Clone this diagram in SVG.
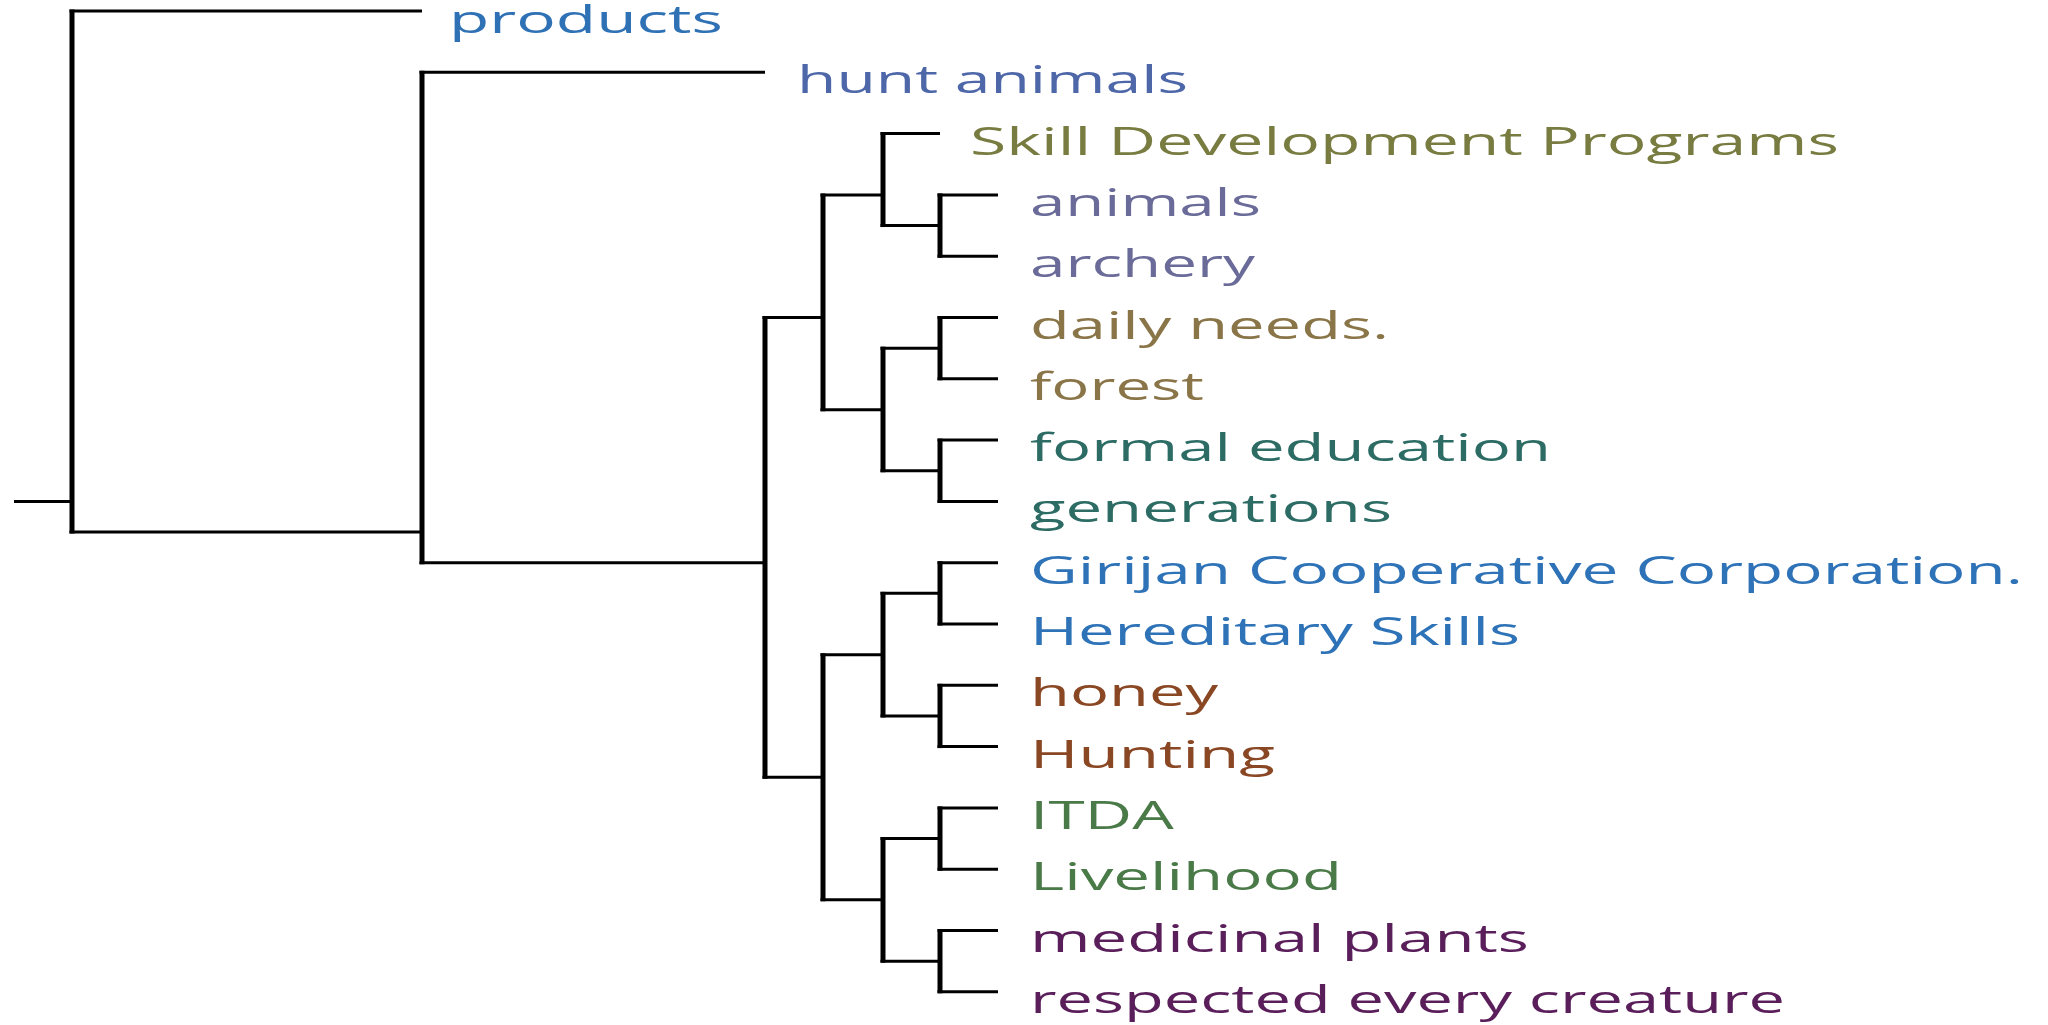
<svg xmlns="http://www.w3.org/2000/svg" width="2048" height="1025" viewBox="0 0 2048 1025">
<style>
  .h { stroke: #000; stroke-width: 3; fill: none; }
  .v { stroke: #000; stroke-width: 5; fill: none; }
  text { font-family: "Open Sans", "Noto Sans", "Liberation Sans", sans-serif; font-size: 38px; }
  .c1 { fill: #2f71b5; }
  .c2 { fill: #4d67a9; }
  .c3 { fill: #787c40; }
  .c4 { fill: #6a6b98; }
  .c5 { fill: #8a7548; }
  .c6 { fill: #2c6c64; }
  .c7 { fill: #2e73b8; }
  .c8 { fill: #8a4724; }
  .c9 { fill: #4a7a48; }
  .c10 { fill: #5a1f5a; }
</style>
<rect width="2048" height="1025" fill="#fff"/>
<g id="connectors">
  <line class="h" x1="14" y1="501.4" x2="72" y2="501.4"/>
  <line class="v" x1="72" y1="9.5" x2="72" y2="533.55"/>
  <line class="h" x1="69.5" y1="11" x2="422" y2="11"/>
  <line class="h" x1="69.5" y1="532.05" x2="422" y2="532.05"/>
  <line class="v" x1="422" y1="70.8" x2="422" y2="564.2"/>
  <line class="h" x1="419.5" y1="72.3" x2="765" y2="72.3"/>
  <line class="h" x1="419.5" y1="562.7" x2="765" y2="562.7"/>
  <line class="v" x1="765" y1="316" x2="765" y2="778.85"/>
  <line class="h" x1="762.5" y1="317.5" x2="823" y2="317.5"/>
  <line class="h" x1="762.5" y1="777.35" x2="823" y2="777.35"/>
  <line class="v" x1="823" y1="193.4" x2="823" y2="411.15"/>
  <line class="h" x1="820.5" y1="194.9" x2="883" y2="194.9"/>
  <line class="h" x1="820.5" y1="409.65" x2="883" y2="409.65"/>
  <line class="v" x1="883" y1="132.1" x2="883" y2="227.05"/>
  <line class="h" x1="880.5" y1="133.6" x2="940" y2="133.6"/>
  <line class="h" x1="880.5" y1="225.55" x2="940" y2="225.55"/>
  <line class="v" x1="940" y1="193.4" x2="940" y2="257.7"/>
  <line class="h" x1="937.5" y1="194.9" x2="998" y2="194.9"/>
  <line class="h" x1="937.5" y1="256.2" x2="998" y2="256.2"/>
  <line class="v" x1="883" y1="346.65" x2="883" y2="472.25"/>
  <line class="h" x1="880.5" y1="348.15" x2="940" y2="348.15"/>
  <line class="h" x1="880.5" y1="470.75" x2="940" y2="470.75"/>
  <line class="v" x1="940" y1="316" x2="940" y2="380.3"/>
  <line class="h" x1="937.5" y1="317.5" x2="998" y2="317.5"/>
  <line class="h" x1="937.5" y1="378.8" x2="998" y2="378.8"/>
  <line class="v" x1="940" y1="438.6" x2="940" y2="502.9"/>
  <line class="h" x1="937.5" y1="440.1" x2="998" y2="440.1"/>
  <line class="h" x1="937.5" y1="501.4" x2="998" y2="501.4"/>
  <line class="v" x1="823" y1="653.15" x2="823" y2="901.35"/>
  <line class="h" x1="820.5" y1="654.65" x2="883" y2="654.65"/>
  <line class="h" x1="820.5" y1="899.85" x2="883" y2="899.85"/>
  <line class="v" x1="883" y1="591.85" x2="883" y2="717.45"/>
  <line class="h" x1="880.5" y1="593.35" x2="940" y2="593.35"/>
  <line class="h" x1="880.5" y1="715.95" x2="940" y2="715.95"/>
  <line class="v" x1="940" y1="561.2" x2="940" y2="625.5"/>
  <line class="h" x1="937.5" y1="562.7" x2="998" y2="562.7"/>
  <line class="h" x1="937.5" y1="624" x2="998" y2="624"/>
  <line class="v" x1="940" y1="683.8" x2="940" y2="748.1"/>
  <line class="h" x1="937.5" y1="685.3" x2="998" y2="685.3"/>
  <line class="h" x1="937.5" y1="746.6" x2="998" y2="746.6"/>
  <line class="v" x1="883" y1="837.05" x2="883" y2="962.65"/>
  <line class="h" x1="880.5" y1="838.55" x2="940" y2="838.55"/>
  <line class="h" x1="880.5" y1="961.15" x2="940" y2="961.15"/>
  <line class="v" x1="940" y1="806.4" x2="940" y2="870.7"/>
  <line class="h" x1="937.5" y1="807.9" x2="998" y2="807.9"/>
  <line class="h" x1="937.5" y1="869.2" x2="998" y2="869.2"/>
  <line class="v" x1="940" y1="929" x2="940" y2="993.3"/>
  <line class="h" x1="937.5" y1="930.5" x2="998" y2="930.5"/>
  <line class="h" x1="937.5" y1="991.8" x2="998" y2="991.8"/>
</g>
<g id="node-products"><text class="c1" x="449" y="33" textLength="274" lengthAdjust="spacingAndGlyphs">products</text></g>
<g id="node-hunt-animals"><text class="c2" x="797" y="93.3" textLength="391" lengthAdjust="spacingAndGlyphs">hunt animals</text></g>
<g id="node-skill-development-programs"><text class="c3" x="970" y="154.6" textLength="869" lengthAdjust="spacingAndGlyphs">Skill Development Programs</text></g>
<g id="node-animals"><text class="c4" x="1030" y="215.9" textLength="231" lengthAdjust="spacingAndGlyphs">animals</text></g>
<g id="node-archery"><text class="c4" x="1030" y="277.2" textLength="225" lengthAdjust="spacingAndGlyphs">archery</text></g>
<g id="node-daily-needs"><text class="c5" x="1030" y="338.5" textLength="359" lengthAdjust="spacingAndGlyphs">daily needs.</text></g>
<g id="node-forest"><text class="c5" x="1030" y="399.8" textLength="174" lengthAdjust="spacingAndGlyphs">forest</text></g>
<g id="node-formal-education"><text class="c6" x="1030" y="461.1" textLength="521" lengthAdjust="spacingAndGlyphs">formal education</text></g>
<g id="node-generations"><text class="c6" x="1030" y="522.4" textLength="362" lengthAdjust="spacingAndGlyphs">generations</text></g>
<g id="node-girijan"><text class="c7" x="1030" y="583.7" textLength="993" lengthAdjust="spacingAndGlyphs">Girijan Cooperative Corporation.</text></g>
<g id="node-hereditary-skills"><text class="c7" x="1030" y="645" textLength="490" lengthAdjust="spacingAndGlyphs">Hereditary Skills</text></g>
<g id="node-honey"><text class="c8" x="1030" y="706.3" textLength="188" lengthAdjust="spacingAndGlyphs">honey</text></g>
<g id="node-hunting"><text class="c8" x="1030" y="767.6" textLength="245" lengthAdjust="spacingAndGlyphs">Hunting</text></g>
<g id="node-itda"><text class="c9" x="1030" y="828.9" textLength="144" lengthAdjust="spacingAndGlyphs">ITDA</text></g>
<g id="node-livelihood"><text class="c9" x="1030" y="890.2" textLength="312" lengthAdjust="spacingAndGlyphs">Livelihood</text></g>
<g id="node-medicinal-plants"><text class="c10" x="1030" y="951.5" textLength="499" lengthAdjust="spacingAndGlyphs">medicinal plants</text></g>
<g id="node-respected-every-creature"><text class="c10" x="1030" y="1012.8" textLength="755" lengthAdjust="spacingAndGlyphs">respected every creature</text></g>
</svg>
